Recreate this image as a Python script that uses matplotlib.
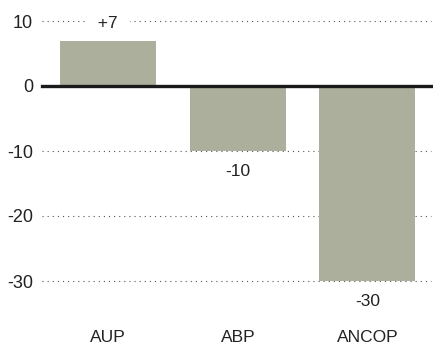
import matplotlib
matplotlib.use("Agg")
import matplotlib.pyplot as plt

categories = ["AUP", "ABP", "ANCOP"]
values = [7, -10, -30]
value_labels = ["+7", "-10", "-30"]
yticks = [10, 0, -10, -20, -30]

plt.rcParams["font.family"] = ["Liberation Sans", "DejaVu Sans"]

fig = plt.figure(figsize=(4.33, 3.49), dpi=100)
ax = fig.add_axes([42 / 433, 1 - 281 / 349, (431 - 42) / 433, (281 - 21) / 349])

x = list(range(len(categories)))
ax.set_xlim(-0.51, 2.49)
ax.set_ylim(-30, 10)

# dotted gridlines behind the bars
for t in yticks:
    if t != 0:
        ax.axhline(t, color="#555555", lw=0.8, linestyle=(0, (1, 3.6)), zorder=1,
                   clip_on=False)

ax.bar(x, values, width=0.74, color="#abaf9c", zorder=2)
ax.axhline(0, color="#1a1a1a", lw=2.4, zorder=3, clip_on=False)

for xi, v, lab in zip(x, values, value_labels):
    off = 17 if v > 0 else -21
    # positive labels sit on a gridline, so pad them sideways to break the dots
    text = "  " + lab + "  " if v > 0 else lab
    ax.annotate(text, (xi, v), xytext=(0, off * 72 / 100), textcoords="offset points",
                ha="center", va="center", fontsize=12.5, color="#222222", zorder=4,
                bbox=dict(boxstyle="square,pad=0.15", facecolor="white",
                          edgecolor="none"))

ax.set_yticks(yticks)
ax.set_yticklabels([str(t) for t in yticks], fontsize=13, color="#222222")
ax.set_xticks(x)
ax.set_xticklabels(categories, fontsize=12.5, color="#222222")
ax.tick_params(axis="y", length=0, pad=6.5)
ax.tick_params(axis="x", length=0, pad=35)

for s in ax.spines.values():
    s.set_visible(False)

fig.savefig("out.png", dpi=100)
